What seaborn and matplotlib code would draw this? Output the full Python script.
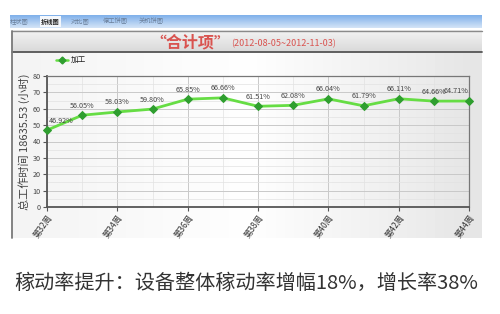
import matplotlib
matplotlib.use("Agg")
import matplotlib.pyplot as plt
import seaborn as sns
import numpy as np
import pandas as pd
from matplotlib.patches import Rectangle

# ---------------- data ----------------
weeks = ["第32周", "第33周", "第34周", "第35周", "第36周", "第37周", "第38周",
         "第39周", "第40周", "第41周", "第42周", "第43周", "第44周"]
rates = [46.92, 56.05, 58.03, 59.80, 65.85, 66.66, 61.51,
         62.08, 66.04, 61.79, 66.11, 64.66, 64.71]
rate_labels = ["46.92%", "56.05%", "58.03%", "59.80%", "65.85%", "66.66%", "61.51%",
               "62.08%", "66.04%", "61.79%", "66.11%", "64.66%", "64.71%"]
tick_weeks = ["第32周", "第34周", "第36周", "第38周", "第40周", "第42周", "第44周"]
yticks = [0, 10, 20, 30, 40, 50, 60, 70, 80]
tabs = ["柱状图", "折线图", "对比图", "停工饼图", "关机饼图"]
series_name = "加工"
title_main = "“合计项”"
title_range = "(2012-08-05~2012-11-03)"
ylabel = "总工作时间 18635.53 (小时)"
caption = "稼动率提升：设备整体稼动率增幅18%，增长率38%"

sns.set_theme(style="white")
plt.rcParams['font.family'] = ['Noto Sans CJK SC', 'DejaVu Sans']

W, H = 500, 314
fig = plt.figure(figsize=(5.0, 3.14), dpi=100)
fig.patch.set_facecolor("white")

def fx(x):
    return x / W

def fy(y):
    return 1 - y / H

# ---------- background panel (screenshot frame) ----------
bg = fig.add_axes([0, 0, 1, 1])
bg.set_xlim(0, W)
bg.set_ylim(H, 0)
bg.axis("off")

grad = np.linspace(0, 1, 50).reshape(-1, 1)
bg.imshow(grad, extent=[10, 482, 28, 15], cmap=matplotlib.colors.LinearSegmentedColormap.from_list(
    "b", ["#7fb0ea", "#d4e4f7"]), aspect="auto", zorder=1)
bg.add_patch(Rectangle((12, 30), 470, 208, facecolor="#eeeeee", edgecolor="none", zorder=1))
bg.imshow(grad, extent=[12, 482, 52, 31], cmap=matplotlib.colors.LinearSegmentedColormap.from_list(
    "g", ["#f2f2f2", "#d9d9d9"]), aspect="auto", zorder=1.5)
bg.plot([12, 482], [31, 31], color="#8a8a8a", lw=1.0, zorder=2)
bg.plot([12, 482], [52, 52], color="#555555", lw=1.3, zorder=2)
bg.plot([12, 12], [31, 238], color="#7a7a7a", lw=1.3, zorder=2)
bg.imshow(np.linspace(0, 1, 50).reshape(1, -1), extent=[13, 482, 238, 53],
          cmap=matplotlib.colors.LinearSegmentedColormap.from_list("w", ["#f4f4f4", "#ffffff", "#e6e6e6"]),
          aspect="auto", zorder=1.2)

tab_x = [19, 50, 80, 115, 151]
for i, (t, x) in enumerate(zip(tabs, tab_x)):
    if i == 1:
        bg.add_patch(Rectangle((x - 10, 16), 21, 11, facecolor="#f4f7fb", edgecolor="none", zorder=2))
        bg.text(x, 21.5, t, fontsize=4.5, color="#222222", ha="center", va="center",
                fontweight="bold", zorder=3)
    else:
        bg.text(x, 21.5, t, fontsize=4.5, color="#6a7f9a", ha="center", va="center", zorder=3)

bg.text(230, 42, title_main, fontsize=11.5, color="#d9534f", ha="right", va="center",
        fontweight="bold", zorder=3)
bg.text(231, 43.5, title_range, fontsize=6.5, color="#d9534f", ha="left", va="center", zorder=3)

bg.plot([56, 68], [60, 60], color="#66dd44", lw=1.8, zorder=3)
bg.plot([62], [60], marker="D", color="#2f9e2f", markersize=3.5, zorder=4)
bg.text(71, 60, series_name, fontsize=5.5, color="#222222", ha="left", va="center", zorder=3)

bg.text(246, 283, caption, fontsize=14.5, color="#333333", ha="center", va="center", zorder=3)

# ---------- chart axes ----------
ax = fig.add_axes([fx(47), fy(207), fx(469) - fx(47), (207 - 76) / H])
ax.set_facecolor("none")
df = pd.DataFrame({"week": weeks, "rate": rates, "pos": np.arange(len(weeks))})
sns.lineplot(data=df, x="pos", y="rate", ax=ax, color="#66dd44", lw=2.0,
             marker="D", markersize=4, markerfacecolor="#2f9e2f", markeredgecolor="#2f9e2f",
             zorder=4)
n = len(weeks)
for p, v, lab in zip(df["pos"], df["rate"], rate_labels):
    if p == 0:
        ha, dx = "left", 1
    elif p == n - 1:
        ha, dx = "right", 0
    else:
        ha, dx = "center", 0
    ax.annotate(lab, (p, v), xytext=(dx, 4), textcoords="offset points",
                ha=ha, va="bottom", fontsize=5.2, color="#444444", zorder=5,
                annotation_clip=False)

ax.set_xlim(0, n - 1)
ax.set_ylim(0, 80)
ax.set_yticks(yticks)
ax.set_yticklabels([str(v) for v in yticks], fontsize=5.2, color="#444444")
tick_pos = [weeks.index(w) for w in tick_weeks]
ax.set_xticks(tick_pos)
ax.set_xticklabels(tick_weeks, rotation=55, ha="right", va="top", fontsize=6, color="#333333",
                   rotation_mode="anchor")
ax.set_yticks([5, 15, 25, 35, 45, 55, 65, 75], minor=True)
ax.set_xticks(np.arange(1, n - 1, 2), minor=True)
ax.grid(True, which="major", color="#c9c9c9", lw=0.7)
ax.grid(True, which="minor", color="#e2e2e2", lw=0.5)
ax.tick_params(axis="both", which="major", length=3, width=0.8, color="#555555", pad=1.5,
               left=True, bottom=True)
ax.tick_params(axis="both", which="minor", length=0)
ax.set_xlabel("")
ax.set_ylabel(ylabel, fontsize=8, color="#444444", labelpad=2)
for s in ["left", "bottom"]:
    ax.spines[s].set_color("#555555")
    ax.spines[s].set_linewidth(1.3)
for s in ["top", "right"]:
    ax.spines[s].set_color("#777777")
    ax.spines[s].set_linewidth(0.9)
for l in ax.get_lines()[:1]:
    l.set_clip_on(False)

fig.savefig("out.png", dpi=100)
